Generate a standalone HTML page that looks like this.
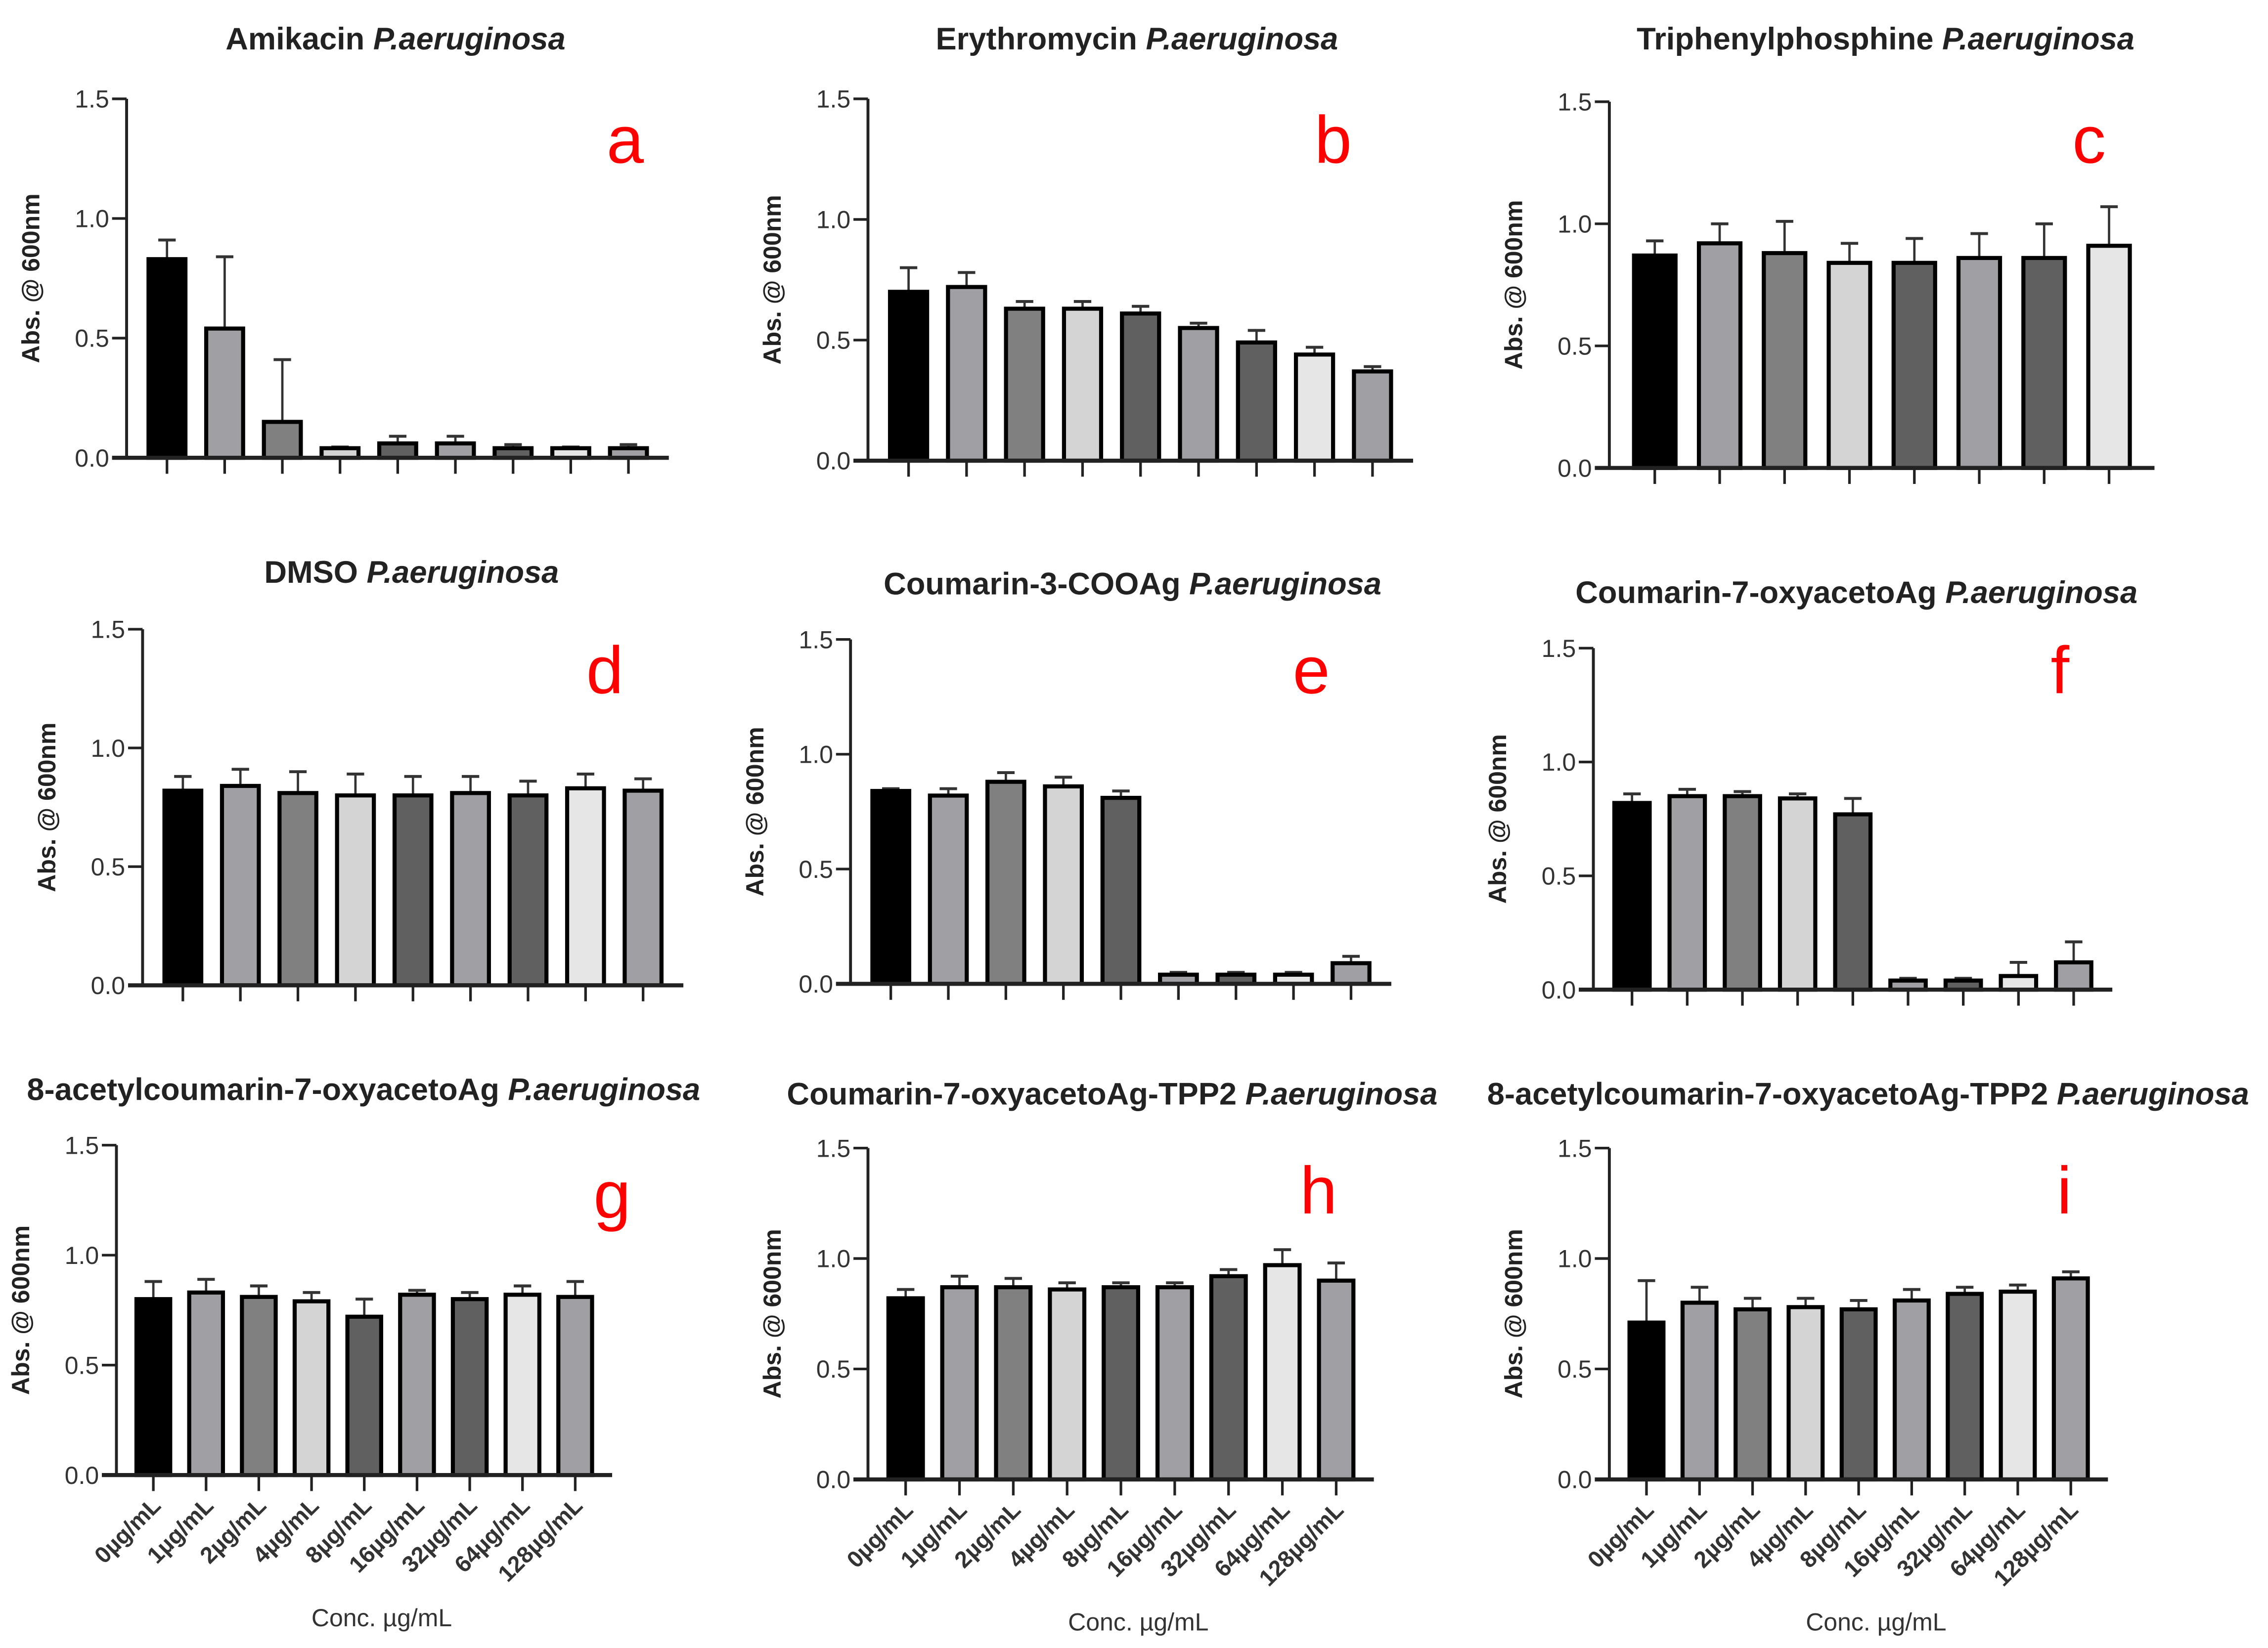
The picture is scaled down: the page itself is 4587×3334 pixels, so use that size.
<!DOCTYPE html>
<html><head><meta charset="utf-8"><style>
html,body{margin:0;padding:0;background:#fff}
svg{display:block}
text{font-family:"Liberation Sans",Arial,sans-serif}
</style></head><body>
<svg id="fig" width="4587" height="3334" viewBox="0 0 1560 1134" xmlns="http://www.w3.org/2000/svg"></svg>
<script>
const categories=["0µg/mL","1µg/mL","2µg/mL","4µg/mL","8µg/mL","16µg/mL","32µg/mL","64µg/mL","128µg/mL"];
const yTicks=[0,0.5,1.0,1.5];
const yTickLabels=["0.0","0.5","1.0","1.5"];
const valsA=[0.83,0.54,0.15,0.04,0.06,0.06,0.04,0.04,0.04];
const errA=[0.91,0.84,0.41,0.045,0.09,0.09,0.055,0.045,0.055];
const valsB=[0.70,0.72,0.63,0.63,0.61,0.55,0.49,0.44,0.37];
const errB=[0.80,0.78,0.66,0.66,0.64,0.57,0.54,0.47,0.39];
const valsC=[0.87,0.92,0.88,0.84,0.84,0.86,0.86,0.91];
const errC=[0.93,1.00,1.01,0.92,0.94,0.96,1.00,1.07];
const valsD=[0.82,0.84,0.81,0.80,0.80,0.81,0.80,0.83,0.82];
const errD=[0.88,0.91,0.90,0.89,0.88,0.88,0.86,0.89,0.87];
const valsE=[0.84,0.82,0.88,0.86,0.81,0.04,0.04,0.04,0.09];
const errE=[0.85,0.85,0.92,0.90,0.84,0.05,0.05,0.05,0.12];
const valsF=[0.82,0.85,0.85,0.84,0.77,0.04,0.04,0.06,0.12];
const errF=[0.86,0.88,0.87,0.86,0.84,0.05,0.05,0.12,0.21];
const valsG=[0.80,0.83,0.81,0.79,0.72,0.82,0.80,0.82,0.81];
const errG=[0.88,0.89,0.86,0.83,0.80,0.84,0.83,0.86,0.88];
const valsH=[0.82,0.87,0.87,0.86,0.87,0.87,0.92,0.97,0.90];
const errH=[0.86,0.92,0.91,0.89,0.89,0.89,0.95,1.04,0.98];
const valsI=[0.71,0.80,0.77,0.78,0.77,0.81,0.84,0.85,0.91];
const errI=[0.90,0.87,0.82,0.82,0.81,0.86,0.87,0.88,0.94];
const fills=["#000","#a0a0a4","#808080","#d4d4d4","#606060","#a0a0a4","#606060","#e6e6e6","#a0a0a4"];

const panels=[
 {id:"a",name:"Amikacin",vals:valsA,err:errA,ax:87,top:68,zero:315,end:460,tx:272,ty:34,lx:430,ly:112,xl:false},
 {id:"b",name:"Erythromycin",vals:valsB,err:errB,ax:597,top:68,zero:317,end:972,tx:782,ty:34,lx:917,ly:112,xl:false},
 {id:"c",name:"Triphenylphosphine",vals:valsC,err:errC,ax:1107,top:70,zero:322,end:1482,tx:1297,ty:34,lx:1437,ly:112,xl:false},
 {id:"d",name:"DMSO",vals:valsD,err:errD,ax:98,top:433,zero:678,end:470,tx:283,ty:401,lx:416,ly:477,xl:false},
 {id:"e",name:"Coumarin-3-COOAg",vals:valsE,err:errE,ax:585,top:440,zero:677,end:957,tx:779,ty:409,lx:902,ly:477,xl:false},
 {id:"f",name:"Coumarin-7-oxyacetoAg",vals:valsF,err:errF,ax:1096,top:446,zero:681,end:1453,tx:1277,ty:415,lx:1417,ly:477,xl:false},
 {id:"g",name:"8-acetylcoumarin-7-oxyacetoAg",vals:valsG,err:errG,ax:80,top:788,zero:1015,end:421,tx:250,ty:757,lx:421,ly:838,xl:true},
 {id:"h",name:"Coumarin-7-oxyacetoAg-TPP2",vals:valsH,err:errH,ax:597,top:790,zero:1018,end:945,tx:765,ty:760,lx:907,ly:835,xl:true},
 {id:"i",name:"8-acetylcoumarin-7-oxyacetoAg-TPP2",vals:valsI,err:errI,ax:1107,top:790,zero:1018,end:1450,tx:1285,ty:760,lx:1420,ly:835,xl:true}
];
const NS="http://www.w3.org/2000/svg";
const svg=document.getElementById("fig");
function mk(tag,attrs,parent,txt){const e=document.createElementNS(NS,tag);for(const k in attrs)e.setAttribute(k,attrs[k]);if(txt!==undefined)e.textContent=txt;parent.appendChild(e);return e;}
panels.forEach(p=>{
 const g=mk("g",{},svg);
 
 
 const y=v=>p.zero-(v/1.5)*(p.zero-p.top);
 const n=p.vals.length;
 const sp=(p.end-p.ax)/(n+0.4);
 const x=i=>p.ax+0.7*sp+i*sp;
 const bw=sp*0.64;
 const t=mk("text",{x:p.tx,y:p.ty,"text-anchor":"middle","font-size":21.5,"font-weight":"bold",fill:"#222"},g);
 
 
 mk("tspan",{},t,p.name+" ");
 mk("tspan",{"font-style":"italic"},t,"P.aeruginosa");
 const l=mk("text",{x:p.lx,y:p.ly,"text-anchor":"middle","font-size":46,fill:"#ff0000"},g,p.id);
 
 
 const cy=(p.top+p.zero)/2;
 const yl=mk("text",{x:p.ax-60,y:cy,"text-anchor":"middle","font-size":17,"font-weight":"bold",fill:"#222",transform:`rotate(-90 ${p.ax-60} ${cy})`},g,"Abs. @ 600nm");
 
 
 const ya=mk("line",{x1:p.ax,y1:p.top,x2:p.ax,y2:p.zero,stroke:"#222","stroke-width":2},g);
 
 
 yTicks.forEach((v,k)=>{
  mk("line",{x1:p.ax-10,y1:y(v),x2:p.ax,y2:y(v),stroke:"#222","stroke-width":1.8},g);
  const tl=mk("text",{x:p.ax-12,y:y(v)+6,"text-anchor":"end","font-size":17,fill:"#333"},g,yTickLabels[k]);
  
  
 });
 p.vals.forEach((v,i)=>{
  const cx=x(i);
  mk("line",{x1:cx,y1:y(v),x2:cx,y2:y(p.err[i]),stroke:"#333","stroke-width":1.6},g);
  mk("line",{x1:cx-6,y1:y(p.err[i]),x2:cx+6,y2:y(p.err[i]),stroke:"#333","stroke-width":2},g);
  const r=mk("rect",{x:cx-bw/2,y:y(v),width:bw,height:p.zero-y(v),fill:fills[i],stroke:"#000","stroke-width":2.8},g);
  
  
  mk("line",{x1:cx,y1:p.zero,x2:cx,y2:p.zero+11,stroke:"#222","stroke-width":1.8},g);
  if(p.xl){
   const xt=mk("text",{x:cx+6,y:p.zero+22,"text-anchor":"end","font-size":16,"font-weight":"bold",fill:"#333",transform:`rotate(-45 ${cx+6} ${p.zero+22})`},g,categories[i]);
   
   
  }
 });
 const xa=mk("line",{x1:p.ax-10,y1:p.zero,x2:p.end,y2:p.zero,stroke:"#222","stroke-width":2.8},g);
 
 
 if(p.xl){
  const xtt=mk("text",{x:(p.ax+p.end)/2+12,y:p.zero+104,"text-anchor":"middle","font-size":17,fill:"#333"},g,"Conc. µg/mL");
  
  
 }
});
</script>
</body></html>
